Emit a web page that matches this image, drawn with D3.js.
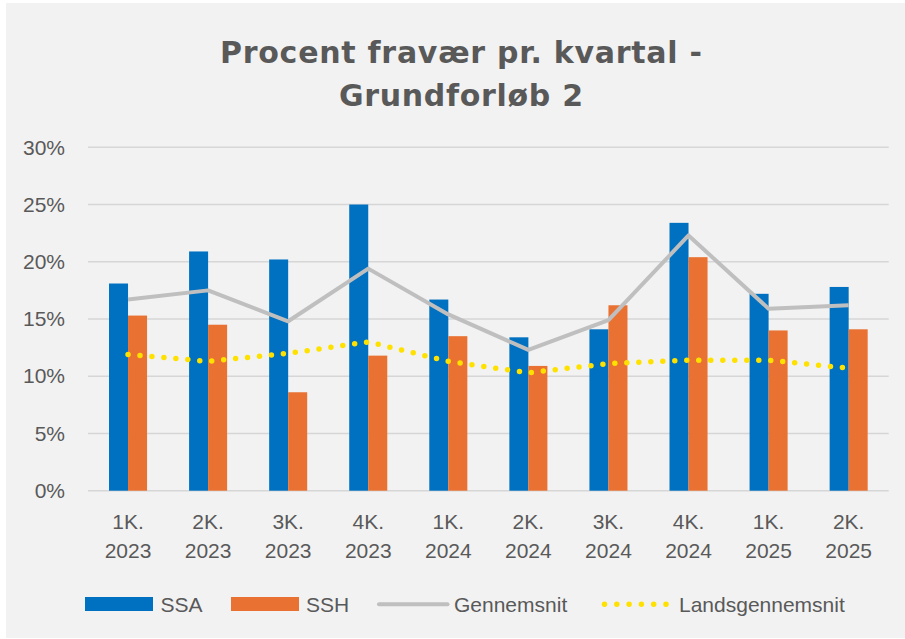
<!DOCTYPE html>
<html>
<head>
<meta charset="utf-8">
<script src="https://cdn.jsdelivr.net/npm/d3@7"></script>
<style>
  body { margin: 0; background: #fff; }
  text { font-family: "Liberation Sans", Arial, sans-serif; fill: #595959; }
</style>
</head>
<body>
<script>
// data (percent)
const categories = ["1K. 2023", "2K. 2023", "3K. 2023", "4K. 2023", "1K. 2024",
                    "2K. 2024", "3K. 2024", "4K. 2024", "1K. 2025", "2K. 2025"];
const ssa = [18.1, 20.9, 20.2, 25.0, 16.7, 13.4, 14.1, 23.4, 17.2, 17.8];
const ssh = [15.3, 14.5, 8.6, 11.8, 13.5, 10.9, 16.2, 20.4, 14.0, 14.1];
const gennemsnit = [16.7, 17.5, 14.8, 19.4, 15.4, 12.3, 14.9, 22.3, 15.9, 16.2];
const landsgennemsnit = [11.9, 11.3, 12.0, 13.0, 11.3, 10.3, 11.1, 11.4, 11.4, 10.7];
const yTicks = [0, 5, 10, 15, 20, 25, 30];
const titleLines = ["Procent fravær pr. kvartal -", "Grundforløb 2"];

const width = 905, height = 639;
const svg = d3.select("body").append("svg")
  .attr("width", width)
  .attr("height", height);

// chart background
svg.append("rect")
  .attr("x", 6).attr("y", 3)
  .attr("width", width - 6).attr("height", 635)
  .attr("fill", "#f2f2f2");

// title
svg.selectAll(".title")
  .data(titleLines)
  .enter().append("text")
  .attr("class", "title")
  .attr("x", 461)
  .attr("y", (d, i) => 62.5 + i * 43.5)
  .attr("text-anchor", "middle")
  .attr("textLength", (d, i) => i === 0 ? 482 : 244)
  .attr("lengthAdjust", "spacing")
  .style("font-family", "'DejaVu Sans', sans-serif")
  .style("font-weight", "bold")
  .style("font-size", "30px")
  .text(d => d);

const x = d3.scaleBand()
  .domain(categories)
  .range([88, 888.7])
  .paddingInner(0.525)
  .paddingOuter(0.2625);

const xSub = d3.scaleBand()
  .domain(["SSA", "SSH"])
  .range([0, x.bandwidth()]);

const y = d3.scaleLinear()
  .domain([0, 30])
  .range([490.7, 147.3]);

const colors = { SSA: "#0070c0", SSH: "#e97132" };

// grid lines
svg.append("g")
  .selectAll("line")
  .data(yTicks)
  .enter().append("line")
  .attr("x1", 88).attr("x2", 888.7)
  .attr("y1", d => y(d)).attr("y2", d => y(d))
  .attr("stroke", "#d6d6d6")
  .attr("stroke-width", 1.4);

// y axis labels
const yAxis = d3.axisLeft(y)
  .tickValues(yTicks)
  .tickFormat(d => d + "%")
  .tickSize(0)
  .tickPadding(0);

svg.append("g")
  .attr("transform", "translate(65,0)")
  .call(yAxis)
  .call(g => g.select(".domain").remove())
  .selectAll("text")
  .attr("fill", "#595959")
  .style("font-family", "'Liberation Sans', Arial, sans-serif")
  .style("font-size", "21px");

// x labels, two lines each
const xl = svg.append("g")
  .selectAll("text")
  .data(categories)
  .enter().append("text")
  .attr("text-anchor", "middle")
  .style("font-size", "21px");

xl.append("tspan")
  .attr("x", d => x(d) + x.bandwidth() / 2)
  .attr("y", 529)
  .text(d => d.split(" ")[0]);
xl.append("tspan")
  .attr("x", d => x(d) + x.bandwidth() / 2)
  .attr("y", 558)
  .text(d => d.split(" ")[1]);

// bars
const barData = categories.map((c, i) => [
  { cat: c, key: "SSA", v: ssa[i] },
  { cat: c, key: "SSH", v: ssh[i] }
]).flat();

svg.append("g")
  .selectAll("rect")
  .data(barData)
  .enter().append("rect")
  .attr("x", d => x(d.cat) + xSub(d.key))
  .attr("y", d => y(d.v))
  .attr("width", xSub.bandwidth())
  .attr("height", d => y(0) - y(d.v))
  .attr("fill", d => colors[d.key]);

const cx = c => x(c) + x.bandwidth() / 2;

const line = d3.line()
  .x((d, i) => cx(categories[i]))
  .y(d => y(d));

svg.append("path")
  .attr("d", line(gennemsnit))
  .attr("fill", "none")
  .attr("stroke", "#bfbfbf")
  .attr("stroke-width", 4)
  .attr("stroke-linejoin", "round");

svg.append("path")
  .attr("d", line(landsgennemsnit))
  .attr("fill", "none")
  .attr("stroke", "#ffe100")
  .attr("stroke-width", 5.5)
  .attr("stroke-linecap", "round")
  .attr("stroke-dasharray", "0 12");

// legend
const legend = svg.append("g");

legend.append("rect")
  .attr("x", 85).attr("y", 597)
  .attr("width", 68).attr("height", 14)
  .attr("fill", colors.SSA);
legend.append("text").attr("x", 160.5).attr("y", 611.5)
  .style("font-size", "21px").text("SSA");

legend.append("rect")
  .attr("x", 231).attr("y", 597)
  .attr("width", 68).attr("height", 14)
  .attr("fill", colors.SSH);
legend.append("text").attr("x", 306).attr("y", 611.5)
  .style("font-size", "21px").text("SSH");

legend.append("line")
  .attr("x1", 379).attr("x2", 447.5)
  .attr("y1", 604.3).attr("y2", 604.3)
  .attr("stroke", "#bfbfbf")
  .attr("stroke-width", 4)
  .attr("stroke-linecap", "round");
legend.append("text").attr("x", 454).attr("y", 611.5)
  .style("font-size", "21px").text("Gennemsnit");

legend.append("line")
  .attr("x1", 604.5).attr("x2", 667.5)
  .attr("y1", 604.3).attr("y2", 604.3)
  .attr("stroke", "#ffe100")
  .attr("stroke-width", 5.5)
  .attr("stroke-linecap", "round")
  .attr("stroke-dasharray", "0 12.3");
legend.append("text").attr("x", 679).attr("y", 611.5)
  .style("font-size", "21px").text("Landsgennemsnit");
</script>
</body>
</html>
